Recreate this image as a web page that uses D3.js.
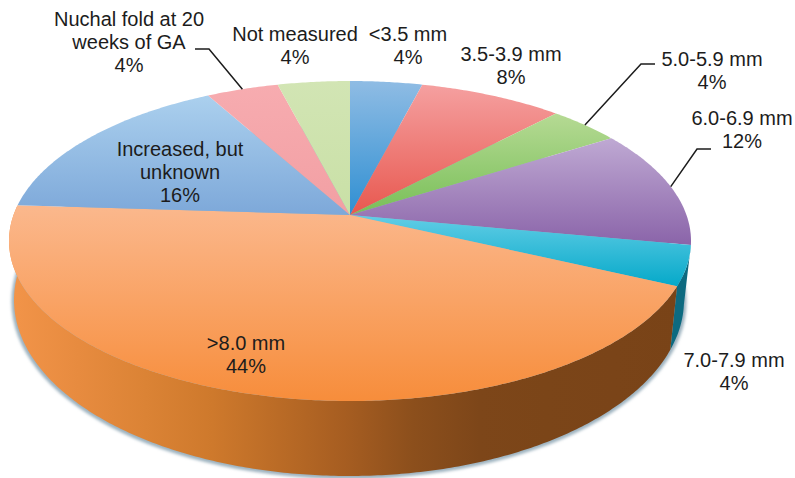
<!DOCTYPE html>
<html>
<head>
<meta charset="utf-8">
<script src="https://cdn.jsdelivr.net/npm/d3@7"></script>
<style>
  html, body { margin: 0; padding: 0; background: #fff; }
  svg { display: block; }
  text { font-family: "Liberation Sans", Arial, sans-serif; font-size: 20px; fill: #1c1c1c; text-anchor: middle; }
</style>
</head>
<body>
<svg id="chart" width="795" height="478"></svg>
<script>
// Nuchal translucency measurement groups, clockwise from twelve o'clock
const categories = ["<3.5 mm", "3.5-3.9 mm", "5.0-5.9 mm", "6.0-6.9 mm", "7.0-7.9 mm", ">8.0 mm", "Increased, but unknown", "Nuchal fold at 20 weeks of GA", "Not measured"];
const values = [4, 8, 4, 12, 4, 44, 16, 4, 4];
const labelLines = [["<3.5 mm"], ["3.5-3.9 mm"], ["5.0-5.9 mm"], ["6.0-6.9 mm"], ["7.0-7.9 mm"], [">8.0 mm"], ["Increased, but", "unknown"], ["Nuchal fold at 20", "weeks of GA"], ["Not measured"]];

// Face shading per slice: back of the disc to front of the disc
const faceLight = ["#8fbce4", "#f5a0a0", "#b6da94", "#bfa9d3", "#62cde6", "#fbb88d", "#abd0ee", "#f7acb0", "#d2e5b4"];
const faceDark = ["#2f8fd2", "#e8584f", "#78bf58", "#8a64a9", "#05a9c9", "#f78d3b", "#7da8d9", "#f29fa3", "#c9e0a6"];

// Label placement: centre x and the baseline of the first line
const labelX = [408, 511, 712, 742, 734, 246, 180, 129, 295];
const labelY = [41, 61, 66, 125, 367, 350, 156, 26, 41];
const lineStep = 23;

// Elbowed leader lines: slice index, elbow and tail points
const leaders = [
  { slice: 2, elbow: [641, 64], tail: [655, 64] },
  { slice: 3, elbow: [697, 149], tail: [711, 149] },
  { slice: 7, elbow: [209, 49], tail: [195, 49] }
];

// Disc geometry on the page
const topRim = { cx: 350, cy: 241, rx: 341, ry: 160 };
const bottomRim = { cx: 349, cy: 300, rx: 335, ry: 176 };
const tilt = 0.1625; // how far the pie's centre sits behind the ellipse's centre

const svg = d3.select("#chart");
const defs = svg.append("defs");

const pie = d3.pie().sort(null).value(d => d);
const arcs = pie(values);

// Perspective map: a pie angle to a unit-ellipse position
function project(angle) {
  const u = Math.sin(angle), v = Math.cos(angle);
  const w = 1 + tilt * v;
  return [u * Math.sqrt(1 - tilt * tilt) / w, (v + tilt) / w];
}
const onRim = (rim, angle) => {
  const [X, Y] = project(angle);
  return [rim.cx + rim.rx * X, rim.cy - rim.ry * Y];
};
const apex = [topRim.cx, topRim.cy - topRim.ry * tilt];

function samples(a0, a1) {
  const n = Math.max(2, Math.ceil((a1 - a0) / 0.01));
  return d3.range(n + 1).map(i => a0 + (a1 - a0) * i / n);
}
const path = d3.line();

// Soft ground shadow just outside the lower rim
const blur = defs.append("filter").attr("id", "soft")
  .attr("x", "-5%").attr("y", "-5%").attr("width", "110%").attr("height", "110%");
blur.append("feGaussianBlur").attr("stdDeviation", 1.8);
svg.append("ellipse")
  .attr("cx", bottomRim.cx).attr("cy", bottomRim.cy + 1.5)
  .attr("rx", bottomRim.rx + 2.5).attr("ry", bottomRim.ry + 1.5)
  .attr("fill", "#9db2bf").attr("filter", "url(#soft)");

// Outer wall colours run left to right across the front of the disc
const wallScale = d3.scaleLinear()
  .domain([0, 0.28, 0.5, 0.66, 1])
  .range(["#f29449", "#d27c2d", "#a65d21", "#7d4619", "#794317"]);
const wallGrad = defs.append("linearGradient").attr("id", "wall-orange")
  .attr("gradientUnits", "userSpaceOnUse")
  .attr("x1", 12).attr("x2", 680).attr("y1", 0).attr("y2", 0);
d3.range(0, 1.01, 0.1).forEach(t =>
  wallGrad.append("stop").attr("offset", t).attr("stop-color", wallScale(t)));

const wallFill = { 4: "#0d6a80", 5: "url(#wall-orange)" };
svg.append("g").selectAll("path")
  .data(arcs.filter(d => wallFill[d.index]))
  .join("path")
  .attr("d", d => {
    const angles = samples(d.startAngle, d.endAngle);
    const upper = angles.map(a => onRim(topRim, a));
    const lower = angles.slice().reverse().map(a => onRim(bottomRim, a));
    return path(upper.concat(lower)) + "Z";
  })
  .attr("fill", d => wallFill[d.index]);

// Top face: one vertical gradient per slice
arcs.forEach(d => {
  const g = defs.append("linearGradient").attr("id", "face-" + d.index)
    .attr("x1", 0).attr("x2", 0).attr("y1", 0).attr("y2", 1);
  g.append("stop").attr("offset", 0).attr("stop-color", faceLight[d.index]);
  g.append("stop").attr("offset", 1).attr("stop-color", faceDark[d.index]);
});
svg.append("g").selectAll("path")
  .data(arcs)
  .join("path")
  .attr("aria-label", d => categories[d.index])
  .attr("d", d => path([apex].concat(samples(d.startAngle, d.endAngle).map(a => onRim(topRim, a)))) + "Z")
  .attr("fill", d => `url(#face-${d.index})`);

// Leader lines start at the middle of their slice's rim
svg.append("g").selectAll("path")
  .data(leaders)
  .join("path")
  .attr("d", l => {
    const a = arcs[l.slice];
    return path([onRim(topRim, (a.startAngle + a.endAngle) / 2), l.elbow, l.tail]);
  })
  .attr("fill", "none").attr("stroke", "#1c1c1c").attr("stroke-width", 1.5);

// Labels: the name lines followed by the percentage
const labels = svg.append("g").selectAll("text")
  .data(arcs)
  .join("text")
  .attr("transform", d => `translate(${labelX[d.index]},${labelY[d.index]})`);
labels.selectAll("tspan")
  .data(d => labelLines[d.index].concat(d.value + "%"))
  .join("tspan")
  .attr("x", 0)
  .attr("y", (d, i) => i * lineStep)
  .text(d => d);
</script>
</body>
</html>
